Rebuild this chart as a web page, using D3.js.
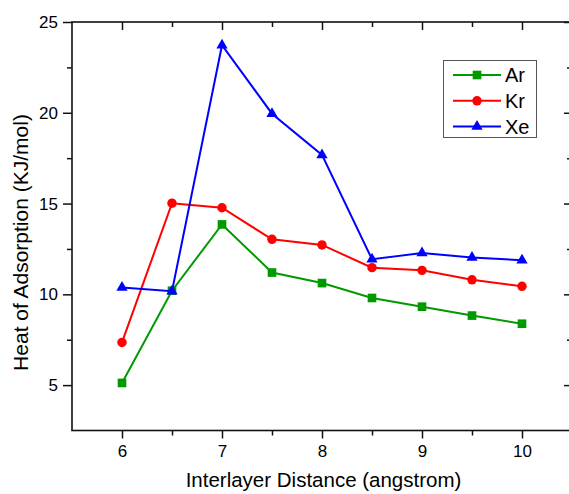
<!DOCTYPE html>
<html><head><meta charset="utf-8">
<script src="https://cdn.jsdelivr.net/npm/d3@7"></script>
<style>body{margin:0;background:#fff}svg{display:block}text{font-family:"Liberation Sans",Arial,sans-serif}</style>
</head><body>
<svg id="c" width="569" height="494"></svg>
<script>
const distances = [6, 6.5, 7, 7.5, 8, 8.5, 9, 9.5, 10];
const ar = [5.12, 10.2, 13.85, 11.2, 10.62, 9.8, 9.32, 8.83, 8.38];
const kr = [7.35, 15.02, 14.77, 13.03, 12.72, 11.47, 11.32, 10.8, 10.44];
const xe = [10.38, 10.17, 23.72, 19.95, 17.68, 11.93, 12.27, 12.03, 11.88];
const seriesNames = ["Ar", "Kr", "Xe"];
const seriesColors = ["#009a00", "#ff0000", "#0000ff"];
const xTicks = [6, 7, 8, 9, 10];
const yTicks = [5, 10, 15, 20, 25];

const svg = d3.select("#c");
const L = 72, R = 572, T = 22, B = 430.5;
const x = d3.scaleLinear().domain([5.5, 10.5]).range([L, R]);
const y = d3.scaleLinear().domain([2.5, 25]).range([B, T]);

const g = svg.append("g");
g.append("rect").attr("x", L).attr("y", T).attr("width", R - L).attr("height", B - T)
  .attr("fill", "none").attr("stroke", "#111").attr("stroke-width", 1.6);

const xMinor = d3.range(6.5, 10.5, 1);
const yMinor = d3.range(2.5, 25, 5).filter(v => v > 2.5);

function axisStyle(sel) {
  sel.select(".domain").remove();
  sel.selectAll(".tick line").attr("stroke", "#111").attr("stroke-width", 1.5);
  sel.selectAll(".tick text").attr("font-size", 17).attr("fill", "#000")
    .attr("font-family", "'Liberation Sans', Arial, sans-serif");
}
g.append("g").attr("transform", `translate(0,${B})`)
  .call(d3.axisBottom(x).tickValues(xTicks).tickSize(8).tickPadding(6).tickFormat(d3.format("d")))
  .call(axisStyle);
g.append("g").attr("transform", `translate(0,${B})`)
  .call(d3.axisBottom(x).tickValues(xMinor).tickSize(5).tickFormat(""))
  .call(axisStyle);
g.append("g").attr("transform", `translate(0,${T})`)
  .call(d3.axisBottom(x).tickValues(xTicks).tickSize(8).tickFormat(""))
  .call(axisStyle);
g.append("g").attr("transform", `translate(0,${T})`)
  .call(d3.axisBottom(x).tickValues(xMinor).tickSize(5).tickFormat(""))
  .call(axisStyle);
g.append("g").attr("transform", `translate(${L},0)`)
  .call(d3.axisLeft(y).tickValues(yTicks).tickSize(9).tickPadding(5).tickFormat(d3.format("d")))
  .call(axisStyle);
g.append("g").attr("transform", `translate(${L},0)`)
  .call(d3.axisLeft(y).tickValues(yMinor).tickSize(5).tickFormat(""))
  .call(axisStyle);
g.append("g").attr("transform", `translate(${R},0)`)
  .call(d3.axisLeft(y).tickValues(yTicks).tickSize(8).tickFormat(""))
  .call(axisStyle);
g.append("g").attr("transform", `translate(${R},0)`)
  .call(d3.axisLeft(y).tickValues(yMinor).tickSize(5).tickFormat(""))
  .call(axisStyle);

svg.append("text").attr("x", 323.5).attr("y", 487).attr("text-anchor", "middle")
  .attr("font-size", 20.5).text("Interlayer Distance (angstrom)");
svg.append("text").attr("transform", `translate(27.5,242.5) rotate(-90)`)
  .attr("text-anchor", "middle").attr("font-size", 21).text("Heat of Adsorption (KJ/mol)");

const symbols = [d3.symbolSquare, d3.symbolCircle, d3.symbolTriangle];
const sizes = [75, 70, 55];
const allData = [ar, kr, xe];
const line = d3.line().x((d, i) => x(distances[i])).y(d => y(d));

allData.forEach((vals, s) => {
  svg.append("path").datum(vals).attr("d", line).attr("fill", "none")
    .attr("stroke", seriesColors[s]).attr("stroke-width", 2);
  svg.selectAll(null).data(vals).enter().append("path")
    .attr("d", d3.symbol().type(symbols[s]).size(sizes[s]))
    .attr("transform", (d, i) => `translate(${x(distances[i])},${y(d)})`)
    .attr("fill", seriesColors[s]);
});

const lg = svg.append("g");
lg.append("rect").attr("x", 443.5).attr("y", 60.5).attr("width", 93).attr("height", 77)
  .attr("fill", "#fff").attr("stroke", "#555").attr("stroke-width", 1);
seriesNames.forEach((n, s) => {
  const yy = 75 + s * 25.8;
  lg.append("line").attr("x1", 453).attr("x2", 501).attr("y1", yy).attr("y2", yy)
    .attr("stroke", seriesColors[s]).attr("stroke-width", 2);
  lg.append("path").attr("d", d3.symbol().type(symbols[s]).size(sizes[s]))
    .attr("transform", `translate(477,${yy})`).attr("fill", seriesColors[s]);
  lg.append("text").attr("x", 505).attr("y", yy + 7).attr("font-size", 20).text(n);
});
</script>
</body></html>
